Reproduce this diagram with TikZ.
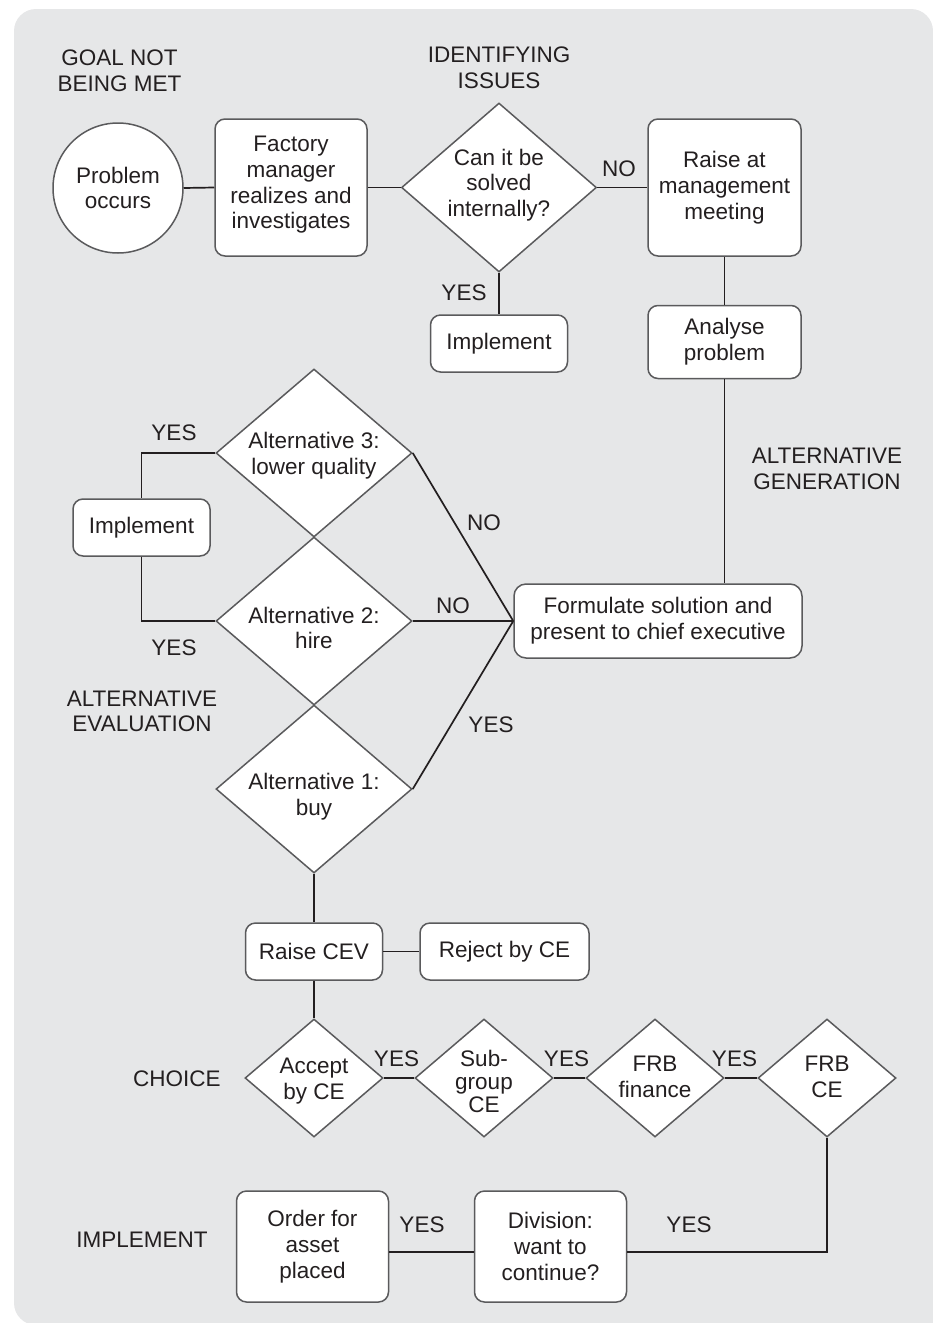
\documentclass[tikz,border=0pt]{standalone}
\usepackage{fontspec}
\setmainfont{Liberation Sans}
\usetikzlibrary{shapes.geometric}
\definecolor{panel}{HTML}{E6E7E8}
\definecolor{ink}{HTML}{231F20}
\definecolor{outline}{HTML}{5A5A5C}

\begin{document}
\begin{tikzpicture}[x=1pt, y=-1pt,
  every node/.style={font=\fontsize{22.5}{25.7}\selectfont, text=ink},
  tight/.style={font=\fontsize{22.5}{23}\selectfont},
  box/.style={draw=outline, fill=white, line width=1.5pt, rounded corners=10pt,
    align=center, inner sep=0pt},
  decision/.style={diamond, draw=outline, fill=white, line width=1.5pt, inner sep=0pt},
  bigdec/.style={decision, minimum width=196pt, minimum height=168pt},
  smalldec/.style={decision, minimum width=138pt, minimum height=118pt},
  link/.style={draw=ink, line width=1.7pt},
  tag/.style={align=center, inner sep=0pt},
]
\useasboundingbox (0,0) rectangle (932,1323);

% grey panel
\fill[panel, rounded corners=22pt] (14,9) rectangle (933,1325);
\fill[panel] (600,700) rectangle (933,1325);

% --- goal not being met / identifying issues
\node[circle, draw=outline, fill=white, line width=1.5pt, align=center,
  inner sep=0pt, minimum size=130pt] (prob) at (118,188) {Problem\\occurs};
\node[box, minimum width=152pt, minimum height=137pt] (fm) at (291,187.5) {};
\node[tag] (fmT) at (291,185) {Factory\\manager\\realizes and\\investigates};
\node[decision, minimum width=195pt, minimum height=169pt] (can) at (499,187.5) {};
\node[tag] (canT) at (499,185) {Can it be\\solved\\internally?};
\node[box, minimum width=153pt, minimum height=137pt] (raise) at (724.5,187.5)
  {Raise at\\management\\meeting};
\node[box, minimum width=137pt, minimum height=57pt] (impA) at (499,343.5) {Implement};
\node[box, minimum width=153pt, minimum height=73pt] (analyse) at (724.5,342)
  {Analyse\\problem};

% --- alternative generation / evaluation
\node[box, rounded corners=12pt, minimum width=288pt, minimum height=74pt] (form)
  at (658,621) {Formulate solution and\\present to chief executive};
\node[bigdec] (alt3) at (314,453) {};
\node[bigdec] (alt2) at (314,621) {};
\node[bigdec] (alt1) at (314,789) {};
\node[tag] (alt3T) at (314,456) {Alternative 3:\\lower quality};
\node[tag] (alt2T) at (314,628) {Alternative 2:\\hire};
\node[tag] (alt1T) at (314,797) {Alternative 1:\\buy};
\node[box, minimum width=137pt, minimum height=57pt] (impB) at (141.5,527.5) {Implement};

% --- choice
\node[box, minimum width=137pt, minimum height=57pt] (cev) at (314,951.5) {Raise CEV};
\node[box, minimum width=169pt, minimum height=57pt] (reject) at (504.5,951.5) {Reject by CE};
\node[smalldec] (accept) at (314,1078) {};
\node[smalldec] (sub) at (484,1078) {};
\node[smalldec] (frbf) at (655,1078) {};
\node[smalldec] (frbce) at (827,1078) {};
\node[tag] (acceptT) at (314,1081) {Accept\\by CE};
\node[tag, tight] (subT) at (484,1081) {Sub-\\group\\CE};
\node[tag] (frbfT) at (655,1077) {FRB\\finance};
\node[tag] (frbceT) at (827,1077) {FRB\\CE};

% --- implement
\node[box, minimum width=152pt, minimum height=111pt] (order) at (312.5,1246.5)
  {Order for\\asset\\placed};
\node[box, minimum width=152pt, minimum height=111pt] (div) at (550.5,1246.5)
  {Division:\\want to\\continue?};
\coordinate (turn) at (827,1252);

% --- connectors
\draw[link] (prob.east) -- (fm.west);
\draw[link] (fm.east) -- (can.west);
\draw[link] (can.east) -- (raise.west);
\draw[link] (can.south) -- (impA.north);
\draw[link] (raise.south) -- (analyse.north);
\draw[link] (analyse.south) -- (analyse.south |- form.north);
\draw[link] (alt3.east) -- (form.west);
\draw[link] (alt2.east) -- (form.west);
\draw[link] (alt1.east) -- (form.west);
\draw[link] (alt3.west) -| (impB.north);
\draw[link] (impB.south) |- (alt2.west);
\draw[link] (alt1.south) -- (cev.north);
\draw[link] (cev.east) -- (reject.west);
\draw[link] (cev.south) -- (accept.north);
\draw[link] (accept.east) -- (sub.west);
\draw[link] (sub.east) -- (frbf.west);
\draw[link] (frbf.east) -- (frbce.west);
\draw[link] (frbce.south) -- (turn) -- (div.east |- turn);
\draw[link] (div.west |- turn) -- (order.east |- turn);

% --- stage headings
\node[tag] (hGoal) at (119.5,70.5) {GOAL NOT\\BEING MET};
\node[tag] (hIssues) at (499,68) {IDENTIFYING\\ISSUES};
\node[tag] (hGen) at (827,469) {ALTERNATIVE\\GENERATION};
\node[tag] (hEval) at (142,711.5) {ALTERNATIVE\\EVALUATION};
\node[tag] (hChoice) at (177,1079) {CHOICE};
\node[tag] (hImpl) at (142,1240) {IMPLEMENT};

% --- branch labels
\node[tag] (lNo1) at (619,169) {NO};
\node[tag] (lYes1) at (464,293) {YES};
\node[tag] (lYes2) at (174,433) {YES};
\node[tag] (lYes3) at (174,648) {YES};
\node[tag] (lNo2) at (484,523) {NO};
\node[tag] (lNo3) at (453,606) {NO};
\node[tag] (lYes4) at (491,725) {YES};
\node[tag] (lYes5) at (396.5,1059) {YES};
\node[tag] (lYes6) at (566.5,1059) {YES};
\node[tag] (lYes7) at (734.5,1059) {YES};
\node[tag] (lYes8) at (422,1225) {YES};
\node[tag] (lYes9) at (689,1225) {YES};
\end{tikzpicture}
\end{document}
